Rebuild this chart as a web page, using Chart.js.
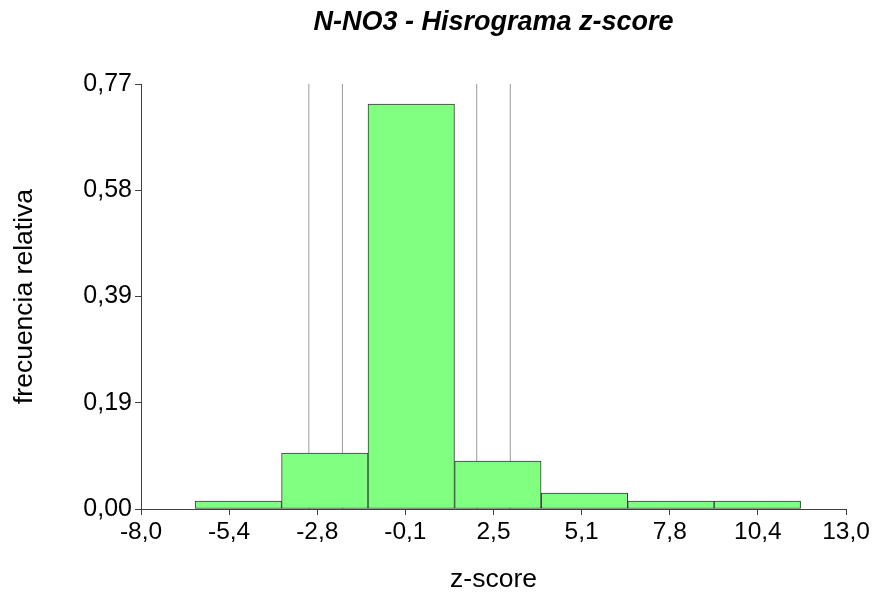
<!DOCTYPE html>
<html>
<head>
<meta charset="utf-8">
<title>N-NO3 - Hisrograma z-score</title>
<script src="https://cdn.jsdelivr.net/npm/chart.js@4/dist/chart.umd.min.js"></script>
<style>
  html, body { margin: 0; padding: 0; background: #ffffff; }
  #wrap { width: 875px; height: 595px; }
</style>
</head>
<body>
<div id="wrap"><canvas id="chart" width="875" height="595"></canvas></div>
<script>
// Histogram bins (z-score class limits) and relative frequency per bin
const binEdges = [-6.39, -3.81, -1.24, 1.34, 3.92, 6.50, 9.07, 11.65];
const relFreq = [0.0145, 0.1014, 0.7337, 0.0870, 0.0290, 0.0145, 0.0145];

// Vertical reference lines at z = ±2 and ±3
const refLines = [-3, -2, 2, 3];

// Axis ticks and their labels (decimal comma)
const xTickValues = [-8, -5.375, -2.75, -0.125, 2.5, 5.125, 7.75, 10.375, 13];
const xTickLabels = ['-8,0', '-5,4', '-2,8', '-0,1', '2,5', '5,1', '7,8', '10,4', '13,0'];
const yTickValues = [0, 0.1925, 0.385, 0.5775, 0.77];
const yTickLabels = ['0,00', '0,19', '0,39', '0,58', '0,77'];

const FONT = '"Liberation Sans", Arial, Helvetica, sans-serif';
const AXIS_COLOR = '#404040';

// bar centres from the class limits
const barPoints = relFreq.map((f, i) => ({ x: (binEdges[i] + binEdges[i + 1]) / 2, y: f }));

// one line dataset, segments separated by null gaps
const refPoints = [];
refLines.forEach((z, i) => {
  if (i > 0) refPoints.push({ x: z, y: null });
  refPoints.push({ x: z, y: 0 });
  refPoints.push({ x: z, y: yTickValues[yTickValues.length - 1] });
});

new Chart(document.getElementById('chart'), {
  type: 'bar',
  data: {
    datasets: [
      {
        type: 'bar',
        data: barPoints,
        backgroundColor: '#80ff80',
        borderColor: '#3a3a3a',
        borderWidth: 1,
        borderSkipped: false,
        barPercentage: 1,
        categoryPercentage: 1,
        order: 1
      },
      {
        type: 'line',
        data: refPoints,
        borderColor: '#9a9a9a',
        borderWidth: 1,
        pointRadius: 0,
        spanGaps: false,
        fill: false,
        order: 2
      }
    ]
  },
  options: {
    responsive: false,
    devicePixelRatio: 1,
    animation: false,
    layout: { padding: { left: 0, right: 29, top: 0, bottom: 0 } },
    plugins: {
      legend: { display: false },
      tooltip: { enabled: false },
      title: {
        display: true,
        text: 'N-NO3 - Hisrograma z-score',
        fullSize: false,
        color: '#000000',
        font: { family: FONT, size: 27, weight: 'bold', style: 'italic', lineHeight: 1.2 },
        padding: { top: 6.3, bottom: 45.3 }
      }
    },
    scales: {
      x: {
        type: 'linear',
        min: xTickValues[0],
        max: xTickValues[xTickValues.length - 1],
        offset: false,
        afterBuildTicks: (scale) => { scale.ticks = xTickValues.map(v => ({ value: v })); },
        afterFit: (scale) => { scale.height = 86; },
        grid: { display: true, drawOnChartArea: false, drawTicks: true, tickLength: 6, color: AXIS_COLOR, offset: false },
        border: { display: true, color: AXIS_COLOR, width: 1 },
        ticks: {
          autoSkip: false,
          maxRotation: 0,
          padding: 3,
          color: '#000000',
          font: { family: FONT, size: 24.5 },
          callback: (value, index) => xTickLabels[index]
        },
        title: {
          display: true,
          text: 'z-score',
          color: '#000000',
          font: { family: FONT, size: 26.5, lineHeight: 1 },
          padding: { top: 0, bottom: 1.75 }
        }
      },
      y: {
        type: 'linear',
        min: yTickValues[0],
        max: yTickValues[yTickValues.length - 1],
        afterBuildTicks: (scale) => { scale.ticks = yTickValues.map(v => ({ value: v })); },
        afterFit: (scale) => { scale.width = 141; },
        grid: { display: true, drawOnChartArea: false, drawTicks: true, tickLength: 6, color: AXIS_COLOR },
        border: { display: true, color: AXIS_COLOR, width: 1 },
        ticks: {
          autoSkip: false,
          padding: 3,
          color: '#000000',
          font: { family: FONT, size: 25 },
          callback: (value, index) => yTickLabels[index]
        },
        title: {
          display: true,
          text: 'frecuencia relativa',
          color: '#000000',
          font: { family: FONT, size: 26.5, lineHeight: 1 },
          padding: { top: 11, bottom: 0 }
        }
      }
    }
  }
});
</script>
</body>
</html>
